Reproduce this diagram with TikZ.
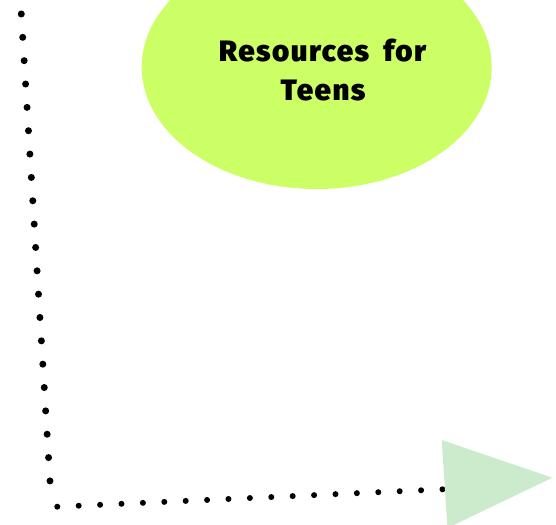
\documentclass[tikz,border=0pt]{standalone}
\usepackage{fontspec}
\usetikzlibrary{shapes.geometric}
\newfontfamily\titlefont{Fira Sans}[UprightFont=* Black, LetterSpace=5]
\definecolor{lime}{HTML}{CCFF66}
\definecolor{paleleaf}{HTML}{CCEBCC}
\tikzset{
  dotline/.style={line cap=round, line width=#1},
  titletext/.style={font=\titlefont\fontsize{29.5}{34}\selectfont, text=black, inner sep=0pt, anchor=base},
}
\begin{document}
\begin{tikzpicture}[x=1pt,y=-1pt]
\useasboundingbox (0,0) rectangle (556,524);
\node[ellipse, fill=lime, draw=none, minimum width=350pt, minimum height=244pt, inner sep=0pt] (oval) at (316.7,67) {};
\node[titletext] (title1) at (322.5,61.7) {Resources\hspace{14pt}for};
\node[titletext] (title2) at (323,100) {Teens};
\coordinate (p0) at (21.3,14);
\coordinate (p1) at (50,481);
\coordinate (p2) at (57.3,506.7);
\coordinate (p3) at (442.7,489.3);
\draw[dotline=7pt, dash pattern=on 0pt off 23.39pt] (p0) -- (p1);
\draw[dotline=6pt, dash pattern=on 0pt off 21.42pt] (p2) -- (p3);
\coordinate (t1) at (441.7,440);
\coordinate (t2) at (552.3,477.7);
\coordinate (t3) at (447.5,528);
\fill[paleleaf] (t1) -- (t2) -- (t3) -- cycle;
\end{tikzpicture}
\end{document}
